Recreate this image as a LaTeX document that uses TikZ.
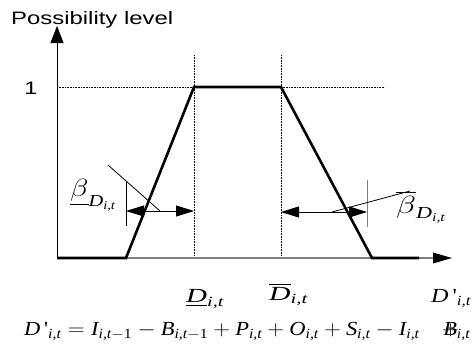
\documentclass[tikz,border=0pt]{standalone}
\usepackage{fontspec}
\usepackage{amsmath}
\setmainfont{Liberation Serif}
\newfontfamily\arialf{Liberation Sans}
\newfontfamily\tnr{Liberation Serif}
\newcommand\TI[1]{\text{\tnr\itshape #1}}
\newcommand\TR[1]{\text{\tnr #1}}
\newcommand\sbit{\TI{i,t}}
\newcommand\towidth[2]{\resizebox{#1}{\height}{#2}}
\usetikzlibrary{arrows.meta}
\begin{document}
\begin{tikzpicture}[x=1pt,y=-1pt,
  thickline/.style={line width=2.6pt,line join=miter},
  dotline/.style={line width=0.6pt,densely dotted},
  thinline/.style={line width=0.8pt},
  grayline/.style={line width=1.2pt,draw=black!50},
  dblarrow/.style={line width=0.8pt,{Triangle[length=18pt,width=11pt]}-{Triangle[length=18pt,width=11pt]}},
  lbl/.style={inner sep=0pt}]
\useasboundingbox (0,0) rectangle (472,351);
% key points
\coordinate (O) at (57,258);
\coordinate (ytop) at (57,26);
\coordinate (xend) at (452,258);
\coordinate (a) at (126,258);
\coordinate (b) at (194,87);
\coordinate (c) at (281,87);
\coordinate (d) at (372,258);
\coordinate (e) at (419,258);
\coordinate (one) at (57,87);
\coordinate (oneend) at (385,87);
\coordinate (bt) at (194,55);
\coordinate (bb) at (194,258);
\coordinate (ct) at (281,55);
\coordinate (cb) at (281,258);
% dotted guides
\draw[dotline] (one) -- (oneend);
\draw[dotline] (bt) -- (bb);
\draw[dotline] (ct) -- (cb);
% axes
\draw[grayline] (O) -- (433,258);
\draw[draw=none,fill=black] (xend) -- (433,252.5) -- (433,263.5) -- cycle;
\draw[thinline,-{Triangle[length=17pt,width=13pt]}] (O) -- (ytop);
% trapezoid
\draw[thickline] (O) -- (a) -- (b) -- (c) -- (d) -- (e);
% left spread
\coordinate (la) at (126,211);
\coordinate (lb) at (194,211);
\coordinate (lt) at (126,182);
\coordinate (lbt) at (126,226);
\coordinate (lp1) at (108,165);
\coordinate (lp2) at (160,211);
\draw[thinline] (lt) -- (lbt);
\draw[dblarrow] (la) -- (lb);
\draw[thinline] (lp1) -- (lp2);
% right spread
\coordinate (ra) at (281,212);
\coordinate (rb) at (367,212);
\coordinate (rt) at (367,180);
\coordinate (rbt) at (367,227);
\coordinate (rp1) at (332,212);
\coordinate (rp2) at (410,191);
\draw[grayline,line width=1pt] (rt) -- (rbt);
\draw[dblarrow] (ra) -- (rb);
\draw[thinline] (rp1) -- (rp2);
% texts
\node[lbl,anchor=base west] (ylab) at (11,24) {\arialf\fontsize{18}{20}\selectfont\towidth{162pt}{Possibility level}};
\node[lbl,anchor=base] (onelab) at (31,94) {\arialf\fontsize{18}{20}\selectfont\scalebox{1.3}[1]{1}};
\node[lbl,anchor=base west] (lbeta) at (70,196) {\fontsize{24}{27}\selectfont\towidth{46pt}{$\underline{\beta}_{\TI{D}_{\sbit}}$}};
\node[lbl,anchor=base west] (rbeta) at (396,213) {\fontsize{24}{27}\selectfont\towidth{50pt}{$\overline{\beta}_{\TI{D}_{\sbit}}$}};
\node[lbl,anchor=base west] (dlow) at (186,302) {\fontsize{20}{22}\selectfont\towidth{38pt}{$\underline{\TI{D}}_{\sbit}$}};
\node[lbl,anchor=base west] (dup) at (269,300) {\fontsize{20}{22}\selectfont\towidth{39pt}{$\overline{\TI{D}}_{\sbit}$}};
\node[lbl,anchor=base west] (dprime) at (431,302) {\fontsize{20}{22}\selectfont\towidth{40pt}{$\TI{D}\TR{\,\textquotesingle}_{\sbit}$}};
\node[lbl,anchor=base west] (eq) at (24,335) {\fontsize{20}{22}\selectfont\towidth{446pt}{$\TI{D}\TR{\,\textquotesingle}_{\sbit} = \TI{I}_{\sbit-\TR{1}} - \TI{B}_{\sbit-\TR{1}} + \TI{P}_{\sbit} + \TI{O}_{\sbit} + \TI{S}_{\sbit} - \TI{I}_{\sbit}\quad \rlap{$+$}\kern1pt\TI{B}_{\sbit}$}};
\end{tikzpicture}
\end{document}
